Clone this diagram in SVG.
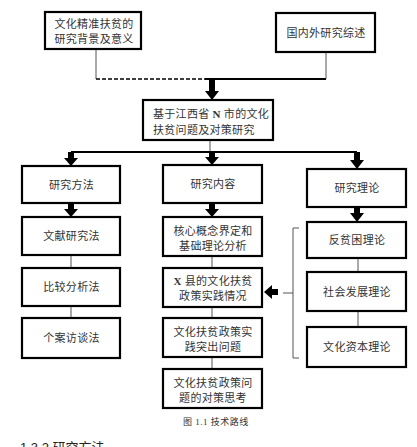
<svg xmlns="http://www.w3.org/2000/svg" width="417" height="447" viewBox="0 0 417 447">
<style>
.box{fill:#fff;stroke:#000;stroke-width:2.2}
.t{font-family:"Liberation Serif","Noto Sans CJK SC",serif;font-size:11px;fill:#333;text-anchor:middle;letter-spacing:0.3px}
.ts{font-family:"Liberation Serif","Noto Sans CJK SC",serif;font-size:11px;fill:#333;letter-spacing:0.3px}
.thin{stroke:#555;stroke-width:1;fill:none}
.thick{stroke:#000;stroke-width:2;fill:none}
.arr{fill:#000}
</style>
<rect width="417" height="447" fill="#fff"/>
<g id="connectors">
<path class="thin" d="M96,49V79"/>
<path d="M96,79H205" stroke="#000" stroke-width="1.6" stroke-dasharray="4,2" fill="none"/>
<path class="thick" d="M205,79H326"/>
<path class="thin" d="M326,52V79"/>
<polygon class="arr" points="209,79 215,79 215,91 219,91 212,100 205,91 209,91"/>
<path class="thin" d="M210,140V152"/>
<path class="thick" d="M71,152H357"/>
<polygon class="arr" points="68,152 74,152 74,158 78,158 71,166 64,158 68,158"/>
<polygon class="arr" points="209,152 215,152 215,157 219,157 212,165 205,157 209,157"/>
<polygon class="arr" points="354,152 360,152 360,160 364,160 357,169 350,160 354,160"/>
<polygon class="arr" points="68,203 74,203 74,209 78,209 71,217 64,209 68,209"/>
<path class="thin" d="M71,255V268M71,306V318"/>
<polygon class="arr" points="209,203 215,203 215,209 219,209 212,217 205,209 209,209"/>
<path class="thin" d="M212,256V268M212,307V318M212,357V369"/>
<polygon class="arr" points="354,207 360,207 360,213 364,213 357,222 350,213 354,213"/>
<path class="thin" d="M358,258V272M358,311V327"/>
<path class="thin" d="M299,228H293V358H299M293,293H283"/>
<polygon class="arr" points="278,289 278,295 272,295 272,299 264,292 272,285 272,289"/>
</g>
<g id="n1"><rect class="box" x="45" y="12" width="96" height="37"/><text class="t" x="94" y="28" letter-spacing="1.2">文化精准扶贫的</text><text class="t" x="94" y="43" letter-spacing="1.2">研究背景及意义</text></g>
<g id="n2"><rect class="box" x="276" y="13" width="99" height="39"/><text class="t" x="326" y="36.5">国内外研究综述</text></g>
<g id="n3"><rect class="box" x="143" y="100" width="130" height="40"/><text class="ts" x="153" y="118">基于江西省 <tspan font-weight="bold">N</tspan> 市的文化</text><text class="ts" x="153" y="134">扶贫问题及对策研究</text></g>
<g id="n4"><rect class="box" x="22" y="166" width="98" height="37"/><text class="t" x="71.5" y="188.5">研究方法</text></g>
<g id="n5"><rect class="box" x="22" y="217" width="98" height="38"/><text class="t" x="71.5" y="240">文献研究法</text></g>
<g id="n6"><rect class="box" x="22" y="268" width="98" height="38"/><text class="t" x="71.5" y="291">比较分析法</text></g>
<g id="n7"><rect class="box" x="22" y="318" width="98" height="40"/><text class="t" x="71.5" y="342">个案访谈法</text></g>
<g id="n8"><rect class="box" x="163" y="165" width="99" height="38"/><text class="t" x="213" y="188">研究内容</text></g>
<g id="n9"><rect class="box" x="163" y="217" width="99" height="39"/><text class="t" x="213" y="235">核心概念界定和</text><text class="t" x="213" y="250">基础理论分析</text></g>
<g id="n10"><rect class="box" x="163" y="268" width="99" height="39"/><text class="t" x="213" y="285"><tspan font-weight="bold">X</tspan> 县的文化扶贫</text><text class="t" x="213" y="300">政策实践情况</text></g>
<g id="n11"><rect class="box" x="163" y="318" width="99" height="39"/><text class="t" x="213" y="336">文化扶贫政策实</text><text class="t" x="213" y="351">践突出问题</text></g>
<g id="n12"><rect class="box" x="163" y="369" width="99" height="39"/><text class="t" x="213" y="387">文化扶贫政策问</text><text class="t" x="213" y="402">题的对策思考</text></g>
<g id="n13"><rect class="box" x="307" y="169" width="99" height="38"/><text class="t" x="357" y="192">研究理论</text></g>
<g id="n14"><rect class="box" x="307" y="222" width="99" height="36"/><text class="t" x="357" y="244">反贫困理论</text></g>
<g id="n15"><rect class="box" x="307" y="272" width="99" height="39"/><text class="t" x="357" y="295.5">社会发展理论</text></g>
<g id="n16"><rect class="box" x="307" y="327" width="99" height="40"/><text class="t" x="357" y="351">文化资本理论</text></g>
<text x="216" y="425" font-family="Liberation Serif,Noto Sans CJK SC,serif" font-size="9" fill="#333" text-anchor="middle" letter-spacing="0.5">图 1.1 技术路线</text>
<text x="20" y="452" font-family="Liberation Sans,Noto Sans CJK SC,sans-serif" font-size="13" fill="#222">1.3.2 研究方法</text>
</svg>
